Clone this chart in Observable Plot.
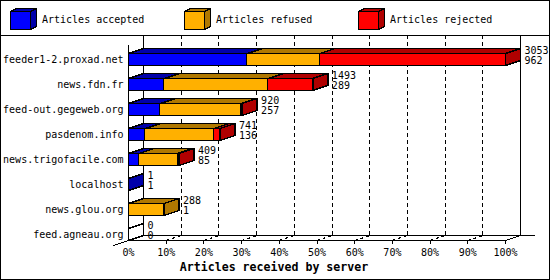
<!DOCTYPE html>
<html><head><meta charset="utf-8">
<script src="https://cdn.jsdelivr.net/npm/d3@7"></script>
<script src="https://cdn.jsdelivr.net/npm/@observablehq/plot@0.6"></script>
<style>
body{margin:0;background:#fff}
#wrap{position:relative;width:550px;height:280px;overflow:hidden;font-family:"DejaVu Sans Mono",monospace;background:#fff}
#chart{position:absolute;left:0;top:0}
#frame{position:absolute;left:0;top:0;width:548px;height:278px;border:1px solid #000;pointer-events:none}
#sep{position:absolute;left:0;top:35px;width:550px;height:1px;background:#000}
.item{position:absolute;top:0;height:35px}
.item svg{position:absolute;left:0;top:8px}
.item span{position:absolute;left:32px;top:14px;line-height:12px;font-size:10px;white-space:nowrap;color:#000}
</style>
</head><body>
<div id="wrap"><div id="chart"></div><div id="legend"></div><div id="sep"></div><div id="frame"></div></div>
<script>
// ---- data ----
const servers = ["feeder1-2.proxad.net","news.fdn.fr","feed-out.gegeweb.org","pasdenom.info","news.trigofacile.com","localhost","news.glou.org","feed.agneau.org"];
const accepted = [962, 289, 257, 136, 85, 1, 1, 0];
const refused  = [588, 842, 656, 556, 314, 0, 287, 0];
const rejected = [1503, 362, 7, 49, 10, 0, 0, 0];
const totals   = [3053, 1493, 920, 741, 409, 1, 288, 0];
const seriesNames = ["Articles accepted", "Articles refused", "Articles rejected"];
const frontColors = ["#0000ff", "#ffb000", "#ff0000"];
const darkColors  = ["#0000aa", "#b07800", "#b00000"];
const percentTicks = [0,10,20,30,40,50,60,70,80,90,100];
const xLabel = "Articles received by server";

// ---- legend ----
const legend = document.getElementById("legend");
seriesNames.forEach((name, k) => {
  const it = document.createElement("div");
  it.className = "item";
  it.style.left = (10 + 174 * k) + "px";
  it.innerHTML = `<svg width="28" height="23" shape-rendering="crispEdges">
    <polygon points="0.5,3.5 20.5,3.5 26.5,0.5 6.5,0.5" fill="${darkColors[k]}" stroke="#000"/>
    <polygon points="20.5,3.5 26.5,0.5 26.5,18.5 20.5,21.5" fill="${darkColors[k]}" stroke="#000"/>
    <rect x="0.5" y="3.5" width="20" height="18" fill="${frontColors[k]}" stroke="#000"/>
  </svg><span>${name}</span>`;
  legend.appendChild(it);
});

// ---- geometry helpers ----
const W = 550, H = 280, ML = 128, MR = 45;
const maxTotal = d3.max(totals);
const pxPerPct = (W - ML - MR) / 100;
const DX = 15, DY = 5, ROWPX = 25;
const dxU = DX / pxPerPct, dyU = DY / ROWPX;
const half = 0.24;
const n = servers.length;
const floorFront = (n - 1) + half;
const floorBack = floorFront - dyU;
const topFront = -0.56, topBack = -0.96;
const pct = v => v / maxTotal * 100;

const fronts = [], polys = [], labels = [];
servers.forEach((s, i) => {
  const vals = [accepted[i], refused[i], rejected[i]];
  let c = 0, last = -1;
  const yT = i - half, yB = i + half;
  vals.forEach((v, k) => {
    if (v > 0) {
      const x1 = pct(c), x2 = pct(c + v);
      fronts.push({x1, x2, y1: yT, y2: yB, color: frontColors[k]});
      const id = `t${i}-${k}`;
      polys.push({id, x: x1, y: yT, color: darkColors[k]}, {id, x: x2, y: yT, color: darkColors[k]},
                 {id, x: x2 + dxU, y: yT - dyU, color: darkColors[k]}, {id, x: x1 + dxU, y: yT - dyU, color: darkColors[k]});
      last = k;
    }
    c += v;
  });
  const xe = pct(totals[i]);
  const sc = last >= 0 ? darkColors[last] : "#ffffff";
  const id = `s${i}`;
  polys.push({id, x: xe, y: yT, color: sc}, {id, x: xe + dxU, y: yT - dyU, color: sc},
             {id, x: xe + dxU, y: yB - dyU, color: sc}, {id, x: xe, y: yB, color: sc});
  labels.push({x: xe + dxU, y: i, total: totals[i], acc: accepted[i]});
});

const inner = percentTicks.filter(t => t > 0 && t < 100);

const plot = Plot.plot({
  width: W, height: H,
  marginLeft: ML, marginRight: MR, marginTop: 34, marginBottom: 21,
  x: {domain: [0, 100], axis: null},
  y: {domain: [-1, 8], range: [34, 259], axis: null},
  color: {type: "identity"},
  style: {fontFamily: "'DejaVu Sans Mono', monospace", fontSize: "10px", background: "white", overflow: "visible"},
  marks: [
    // back dashed gridlines
    Plot.ruleX(inner, {x: d => d + dxU, y1: topBack, y2: floorBack, stroke: "#000", strokeDasharray: "4,3"}),
    // floor dashed connectors
    Plot.link(inner, {x1: d => d, y1: floorFront, x2: d => d + dxU, y2: floorBack, stroke: "#000", strokeDasharray: "3,3", strokeWidth: 1.3}),
    // frame lines
    Plot.ruleX([0], {y1: topFront, y2: floorFront, stroke: "#000"}),
    Plot.ruleX([dxU, 100 + dxU], {y1: topBack, y2: floorBack, stroke: "#000"}),
    Plot.ruleY([floorBack], {x1: dxU, x2: 100 + 2 * dxU, stroke: "#000"}),
    Plot.ruleY([floorFront], {x1: 0, x2: 100, stroke: "#000"}),
    Plot.link([0], {x1: -dxU, y1: floorFront + dyU, x2: dxU, y2: floorBack, stroke: "#000"}),
    Plot.link([100], {x1: 100, y1: floorFront, x2: 100 + dxU, y2: floorBack, stroke: "#000"}),
    Plot.ruleX(percentTicks.filter(t => t > 0), {x: d => d, y1: floorFront, y2: floorFront + 4 / ROWPX, stroke: "#000"}),
    // bars
    Plot.rect(fronts, {x1: "x1", x2: "x2", y1: "y1", y2: "y2", fill: "color", stroke: "#000"}),
    Plot.line(polys, {x: "x", y: "y", z: "id", fill: "color", stroke: "#000", curve: "linear-closed"}),
    // value labels
    Plot.text(labels, {x: "x", y: "y", text: d => String(d.total), dx: 4, dy: -9, textAnchor: "start", fill: "#000"}),
    Plot.text(labels, {x: "x", y: "y", text: d => String(d.acc), dx: 4, dy: 1, textAnchor: "start", fill: "#000"}),
    // category labels
    Plot.text(servers, {x: 0, y: (d, i) => i, text: d => d, dx: -5, textAnchor: "end", fill: "#000"}),
    // tick labels
    Plot.text(percentTicks, {x: d => d, y: floorFront, text: d => d + "%", dy: 12, fill: "#000"}),
    // axis title
    Plot.text([xLabel], {frameAnchor: "bottom", dx: -43, dy: 8, lineAnchor: "middle", text: d => d, fontWeight: "bold", fontSize: 11.6, fill: "#000"})
  ]
});
plot.setAttribute("shape-rendering", "crispEdges");
document.getElementById("chart").appendChild(plot);
</script>
</body></html>
